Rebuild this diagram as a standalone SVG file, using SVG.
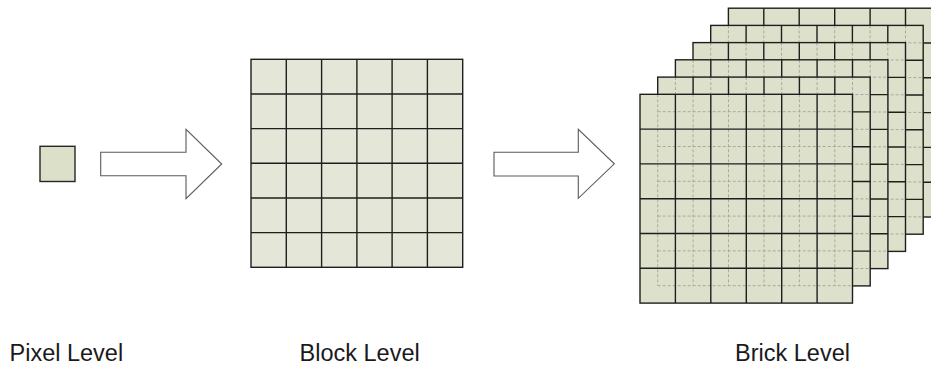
<svg xmlns="http://www.w3.org/2000/svg" xmlns:xlink="http://www.w3.org/1999/xlink" width="931" height="367" viewBox="0 0 931 367">
  <style>
    .label { font-family: "Liberation Sans", Arial, sans-serif; font-size: 23.5px; fill: #1a1a1a; }
    .grid { fill: none; stroke: #1e1e1e; stroke-width: 1.4; }
    .ghost { fill: none; stroke: #a9aa9f; stroke-width: 1; stroke-dasharray: 3 2; }
    .arrow { fill: #ffffff; stroke: #5a5a5a; stroke-width: 1.1; stroke-linejoin: miter; }
  </style>
  <defs>
    <!-- one 6x6 sheet of the brick stack -->
    <g id="sheet-fill">
      <rect x="0" y="0" width="212.5" height="208.8" fill="#dde0ca"/>
    </g>
    <g id="sheet-grid">
      <path class="grid" d="M35.4 0V208.8M70.8 0V208.8M106.3 0V208.8M141.7 0V208.8M177.1 0V208.8
                            M0 34.8H212.5M0 69.6H212.5M0 104.4H212.5M0 139.2H212.5M0 174H212.5"/>
      <rect class="grid" x="0" y="0" width="212.5" height="208.8"/>
    </g>
    <!-- grid of the sheet behind, seen through the current one -->
    <g id="sheet-ghost">
      <path class="ghost" d="M17.7 0V191.4M53.1 0V191.4M88.5 0V191.4M124 0V191.4M159.4 0V191.4M194.8 0V191.4
                             M17.7 17.4H212.5M17.7 52.2H212.5M17.7 87H212.5M17.7 121.8H212.5M17.7 156.6H212.5M17.7 191.4H212.5"/>
    </g>
    <g id="sheet">
      <use xlink:href="#sheet-fill"/>
      <use xlink:href="#sheet-ghost"/>
      <use xlink:href="#sheet-grid"/>
    </g>
    <g id="sheet-last">
      <use xlink:href="#sheet-fill"/>
      <use xlink:href="#sheet-grid"/>
    </g>
  </defs>

  <rect x="0" y="0" width="931" height="367" fill="#ffffff"/>

  <!-- single pixel -->
  <g id="pixel-level">
    <rect x="40" y="146.3" width="35" height="35.2" fill="#dde0c9" stroke="#262626" stroke-width="1.4"/>
    <text class="label" x="9.5" y="361">Pixel Level</text>
  </g>

  <!-- 6x6 block of pixels -->
  <g id="block-level">
    <rect x="251" y="59.3" width="211.7" height="208" fill="#e4e7d7"/>
    <path class="grid" d="M286.3 59.3V267.3M321.6 59.3V267.3M356.9 59.3V267.3M392.1 59.3V267.3M427.4 59.3V267.3
                          M251 94H462.7M251 128.6H462.7M251 163.3H462.7M251 198H462.7M251 232.6H462.7"/>
    <rect class="grid" x="251" y="59.3" width="211.7" height="208"/>
    <text class="label" x="299.5" y="361">Block Level</text>
  </g>

  <!-- stack of blocks, back to front -->
  <g id="brick-level">
    <use xlink:href="#sheet-last" transform="translate(728.4 8.2)"/>
    <use xlink:href="#sheet" transform="translate(710.7 25.4)"/>
    <use xlink:href="#sheet" transform="translate(693 42.6)"/>
    <use xlink:href="#sheet" transform="translate(675.4 59.8)"/>
    <use xlink:href="#sheet" transform="translate(657.7 77.1)"/>
    <use xlink:href="#sheet" transform="translate(640 94.3)"/>
    <text class="label" x="735" y="361">Brick Level</text>
  </g>

  <!-- block arrows between levels -->
  <g id="connectors">
    <path class="arrow" d="M100.7 152.3H186V129.3L221.7 164L186 198.7V175.7H100.7Z"/>
    <path class="arrow" d="M494 152.3H578.3V129.3L614.3 163.8L578.3 198.3V176H494Z"/>
  </g>
</svg>
